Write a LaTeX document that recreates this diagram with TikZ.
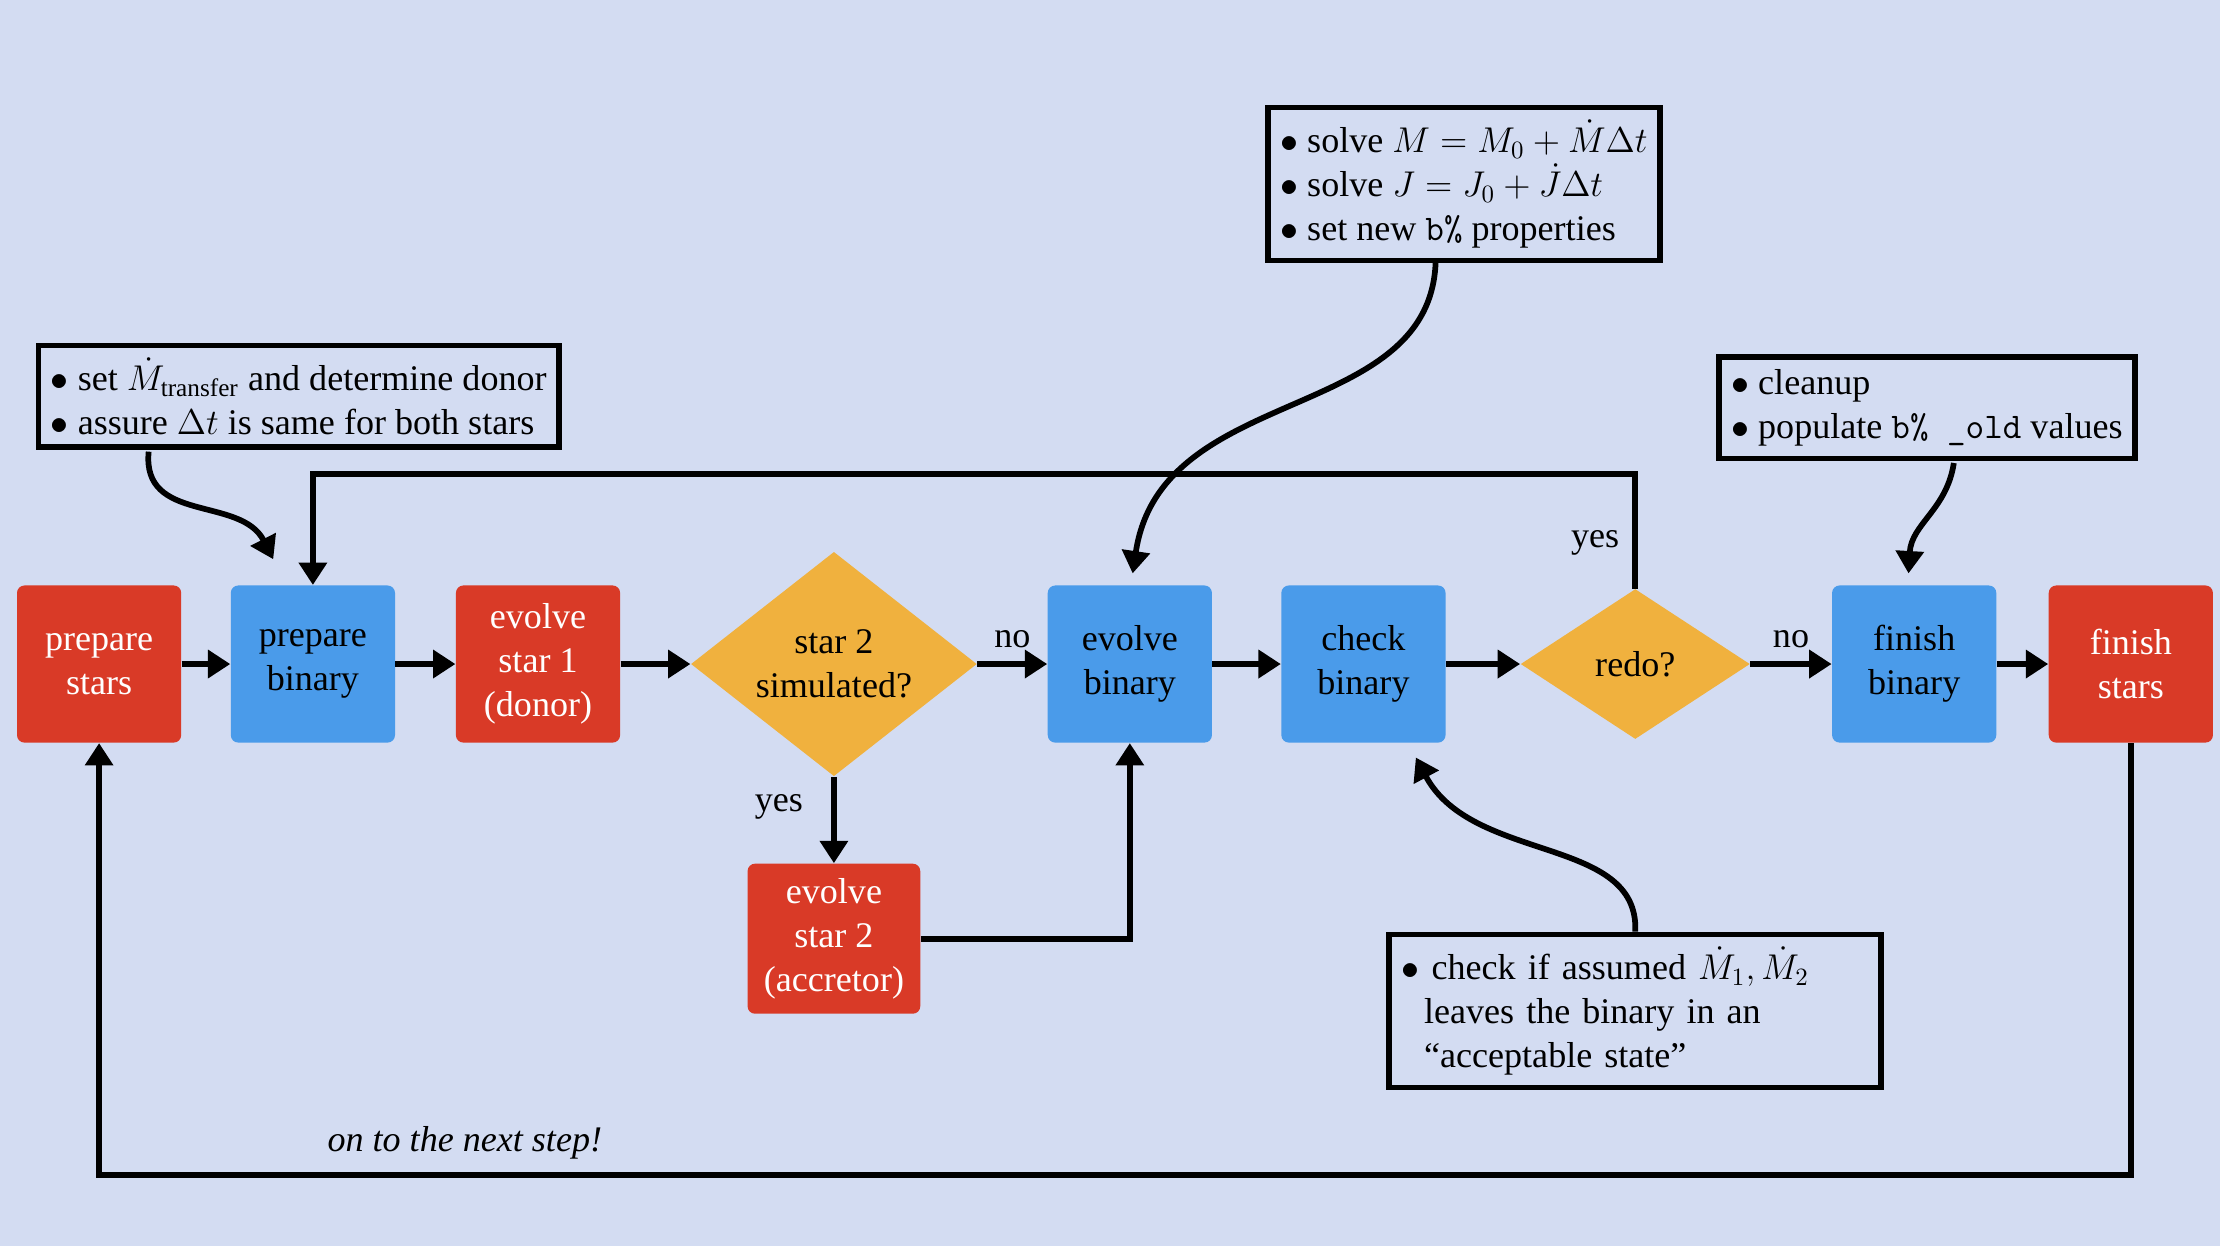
\documentclass[tikz,border=0pt]{standalone}
\usepackage{amsmath}
\usepackage{fontspec}
\setmainfont{Liberation Serif}
\usetikzlibrary{shapes.geometric,arrows.meta}
\definecolor{bgblue}{HTML}{D3DCF2}
\definecolor{stepred}{HTML}{D93A27}
\definecolor{stepblue}{HTML}{4A9BEA}
\definecolor{steporange}{HTML}{F0B13E}
\tikzset{
  stepbox/.style={rounded corners=3pt, minimum width=2.32cm, minimum height=2.22cm,
    align=center, text=white, inner sep=0pt},
  starbox/.style={stepbox, fill=stepred},
  binbox/.style={stepbox, fill=stepblue, text=black},
  ask/.style={diamond, fill=steporange, inner sep=0pt, align=center},
  note/.style={draw, line width=2.3pt, fill=bgblue, align=left, inner sep=5pt},
  flow/.style={line width=2.3pt, -{Triangle[length=9pt,width=11pt]}},
}
\begin{document}
\begin{tikzpicture}[x=0.02cm, y=-0.02cm, font=\fontsize{14.5}{17.6}\selectfont]
    \fill[bgblue] (0,0) rectangle (1568,880);
    \useasboundingbox (0,0) rectangle (1568,880);

    \node[starbox] (pstars) at (70,469) {prepare\\stars};
    \node[binbox] (pbin) at (221,469) {prepare\\binary};
    \node[starbox] (evo1) at (380,469) {evolve\\star 1\\(donor)};
    \node[ask, minimum width=4.04cm, minimum height=2.68cm] (sim) at (589,469) {star 2\\simulated?};
    \node[binbox] (ebin) at (798,469) {evolve\\binary};
    \node[binbox] (cbin) at (963,469) {check\\binary};
    \node[ask, minimum width=3.24cm, minimum height=2.12cm] (redo) at (1155,469) {redo?};
    \node[binbox] (fbin) at (1352,469) {finish\\binary};
    \node[starbox] (fstars) at (1505,469) {finish\\stars};
    \node[starbox, minimum width=2.44cm, minimum height=2.12cm] (evo2) at (589,663) {evolve\\star 2\\(accretor)};

    \node[note] (notedonor) at (211,280) {$\bullet$ set $\dot M_{\text{transfer}}$ and determine donor\\$\bullet$ assure $\Delta t$ is same for both stars};
    \node[note] (notesolve) at (1034,130) {$\bullet$ solve $M = M_0 + \dot M \Delta t$\\$\bullet$ solve $J = J_0 + \dot J \Delta t$\\$\bullet$ set new \texttt{b\%} properties};
    \node[note] (noteclean) at (1361,288) {$\bullet$ cleanup\\$\bullet$ populate \texttt{b\% \_old} values\hspace{4pt}};
    \node[note, text width=6.6cm] (notecheck) at (1155,714) {$\bullet$ check if assumed $\dot M_1, \dot M_2$\\\hspace*{9pt}leaves the binary in an\\\hspace*{9pt}``acceptable state''};

    \draw[flow] (pstars) -- (pbin);
    \draw[flow] (pbin) -- (evo1);
    \draw[flow] (evo1) -- (sim);
    \draw[flow] (sim) -- node[above=2pt] {no} (ebin);
    \draw[flow] (ebin) -- (cbin);
    \draw[flow] (cbin) -- (redo);
    \draw[flow] (redo) -- node[above=2pt] {no} (fbin);
    \draw[flow] (fbin) -- (fstars);
    \draw[flow] (sim) -- node[left=8pt, pos=0.35] {yes} (evo2);
    \draw[flow] (evo2.east) -| (ebin.south);
    \draw[flow] (redo.north) -- node[left=2pt, pos=0.4] {yes} (1155,335) -| (pbin.north);
    \draw[flow] (fstars.south) -- (1505,830) -- node[above=2pt, pos=0.82] {\itshape on to the next step!} (70,830) -- (pstars.south);

    \draw[flow] (105,319) .. controls (100,370) and (170,350) .. (193,395);
    \draw[flow] (1014,185) .. controls (1010,300) and (820,270) .. (800,405);
    \draw[flow] (1380,327) .. controls (1375,360) and (1350,370) .. (1348,405);
    \draw[flow] (notecheck.north) .. controls (1158,590) and (1040,610) .. (1000,535);
\end{tikzpicture}
\end{document}
